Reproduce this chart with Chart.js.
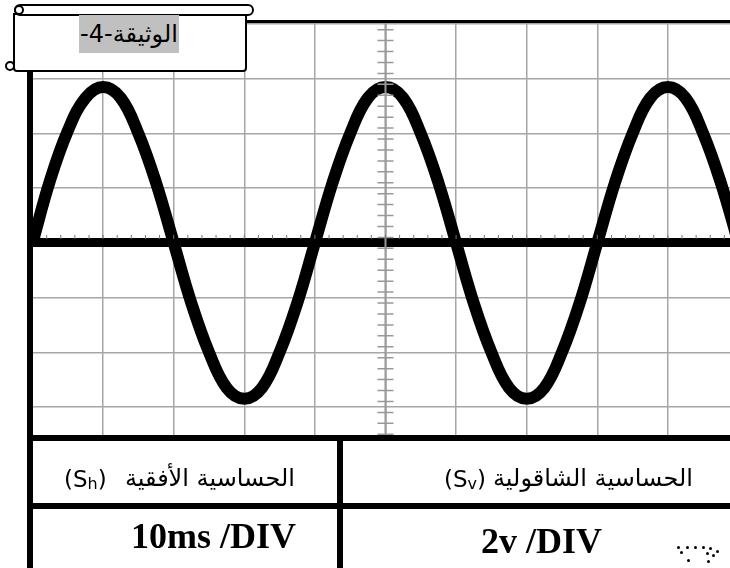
<!DOCTYPE html>
<html>
<head>
<meta charset="utf-8">
<script src="https://cdn.jsdelivr.net/npm/chart.js@4"></script>
<style>
body { margin: 0; background: #fff; }
#wrap { position: relative; width: 730px; height: 568px; overflow: hidden; background: #fff; }
#scope { position: absolute; left: 0; top: 0; }
.bar { position: absolute; background: #000; }
.cell { position: absolute; font-family: "DejaVu Sans", sans-serif; font-size: 24px; line-height: 30px; color: #000; white-space: nowrap; }
.sym { position: absolute; font-family: "DejaVu Sans", sans-serif; font-size: 23px; line-height: 30px; white-space: nowrap; }
.sym sub { font-size: 16px; vertical-align: -2px; }
.val { position: absolute; font-family: "Liberation Serif", serif; font-weight: bold; font-size: 36px; white-space: nowrap; }
#roll { position: absolute; left: 14px; top: 4px; width: 236px; height: 8px; border: 2px solid #000; border-radius: 6px; background: #fff; }
#box { position: absolute; left: 13px; top: 13px; width: 230px; height: 55px; border: 2px solid #000; border-radius: 0 0 4px 4px; background: #fff; }
.curl { position: absolute; width: 6px; height: 6px; border: 2px solid #000; border-radius: 50%; background: #fff; }
#doc { position: absolute; left: 79px; top: 15px; width: 100px; height: 38px; line-height: 38px; background: #c0c0c0; text-align: center; font-family: "DejaVu Sans", sans-serif; font-size: 24px; direction: ltr; }
.dot { position: absolute; width: 3px; height: 3px; border-radius: 50%; background: #000; }
</style>
</head>
<body>
<div id="wrap">
  <canvas id="scope" width="730" height="568"></canvas>
  <div class="bar" style="left:30px; top:20px; width:700px; height:3px;"></div>
  <div class="bar" style="left:27px; top:60px; width:6px; height:508px;"></div>
  <div class="bar" style="left:27px; top:435px; width:703px; height:6px;"></div>
  <div class="bar" style="left:27px; top:503px; width:703px; height:6px;"></div>
  <div class="bar" style="left:337px; top:438px; width:6px; height:130px;"></div>

  <div class="sym" style="left:64px; top:464px;">(S<sub>h</sub>)</div>
  <div class="cell" dir="rtl" style="right:435px; top:463px;">الحساسية الأفقية</div>
  <div class="sym" style="left:444px; top:464px;">(S<sub>v</sub>)</div>
  <div class="cell" dir="rtl" style="right:37px; top:463px;">الحساسية الشاقولية</div>
  <div class="val" style="left:131px; top:515px;">10ms /DIV</div>
  <div class="val" style="left:481px; top:520px;">2v /DIV</div>

  <div class="dot" style="left:677px; top:546px;"></div>
  <div class="dot" style="left:686px; top:546px;"></div>
  <div class="dot" style="left:694px; top:546px;"></div>
  <div class="dot" style="left:702px; top:546px;"></div>
  <div class="dot" style="left:709px; top:547px;"></div>
  <div class="dot" style="left:716px; top:550px;"></div>
  <div class="dot" style="left:680px; top:551px;"></div>
  <div class="dot" style="left:706px; top:552px;"></div>
  <div class="dot" style="left:712px; top:554px;"></div>
  <div class="dot" style="left:687px; top:559px;"></div>
  <div class="dot" style="left:707px; top:560px;"></div>

  <div id="box"></div>
  <div id="roll"></div>
  <div class="curl" style="left:14px; top:5px;"></div>
  <div class="curl" style="left:5px; top:61px;"></div>
  <div id="doc">-4-<span dir="rtl">الوثيقة</span></div>
</div>
<script>
// time in ms (10 ms per division), voltage in V (2 V per division)
const timeMs = [0, 2.5, 5, 7.5, 10, 12.5, 15, 17.5, 20, 22.5, 25, 27.5, 30, 32.5, 35, 37.5,
    40, 42.5, 45, 47.5, 50, 52.5, 55, 57.5, 60, 62.5, 65, 67.5, 70, 72.5, 75, 77.5,
    80, 82.5, 85, 87.5, 90, 92.5, 95, 97.5, 100];
const voltage = [0, 2.3, 4.1, 5.3, 5.7, 5.3, 4.0, 2.2, 0, -2.2, -4.0, -5.3, -5.7, -5.3, -4.0, -2.2,
    0, 2.2, 4.0, 5.3, 5.7, 5.3, 4.0, 2.2, 0, -2.2, -4.0, -5.3, -5.7, -5.3, -4.0, -2.2,
    0, 2.2, 4.0, 5.3, 5.7, 5.3, 4.0, 2.2, 0];
const xGrid = [10, 20, 30, 40, 50, 60, 70, 80, 90];
const yGrid = [-6, -4, -2, 0, 2, 4, 6, 8];

// centre axis with small graduations, drawn over the trace
const graduations = {
    id: 'graduations',
    afterDatasetsDraw(chart) {
        const {ctx, scales: {x, y}, chartArea} = chart;
        const cx = x.getPixelForValue(50);
        const cy = y.getPixelForValue(0);
        ctx.save();
        ctx.strokeStyle = '#999';
        ctx.lineWidth = 2;
        ctx.beginPath();
        ctx.moveTo(cx, chartArea.top);
        ctx.lineTo(cx, chartArea.bottom);
        ctx.stroke();
        ctx.lineWidth = 1.5;
        ctx.beginPath();
        for (let v = -7; v <= 8; v += 0.4) {
            const py = y.getPixelForValue(v);
            if (py < chartArea.top || py > chartArea.bottom) continue;
            ctx.moveTo(cx - 8, py);
            ctx.lineTo(cx + 8, py);
        }
        ctx.stroke();
        ctx.strokeStyle = '#777';
        ctx.lineWidth = 1;
        ctx.beginPath();
        for (let t = 0; t <= 100; t += 2) {
            const px = x.getPixelForValue(t);
            if (px < chartArea.left || px > chartArea.right) continue;
            ctx.moveTo(px, cy - 8);
            ctx.lineTo(px, cy - 4);
        }
        ctx.stroke();
        ctx.restore();
    }
};

const scopeChart = new Chart(document.getElementById('scope'), {
    type: 'line',
    data: {
        labels: timeMs,
        datasets: [{
            data: timeMs.map((t, i) => ({x: t, y: voltage[i]})),
            borderColor: '#000',
            borderWidth: 12,
            pointRadius: 0,
            tension: 0.4,
            clip: 0
        }]
    },
    options: {
        responsive: false,
        animation: false,
        layout: {padding: {left: 32.5, top: 22, right: 0, bottom: 131}},
        plugins: {legend: {display: false}, tooltip: {enabled: false}},
        scales: {
            x: {
                type: 'linear',
                min: 0,
                max: 98.8,
                afterBuildTicks: s => { s.ticks = xGrid.map(v => ({value: v})); },
                ticks: {display: false},
                border: {display: false},
                grid: {color: '#a6a6a6', lineWidth: 1.5, drawTicks: false}
            },
            y: {
                min: -7.1,
                max: 8.08,
                afterBuildTicks: s => { s.ticks = yGrid.map(v => ({value: v})); },
                ticks: {display: false},
                border: {display: false},
                grid: {
                    color: c => c.tick && c.tick.value === 0 ? '#000' : '#a6a6a6',
                    lineWidth: c => c.tick && c.tick.value === 0 ? 9 : 1.5,
                    drawTicks: false
                }
            }
        }
    },
    plugins: [graduations]
});
</script>
</body>
</html>
